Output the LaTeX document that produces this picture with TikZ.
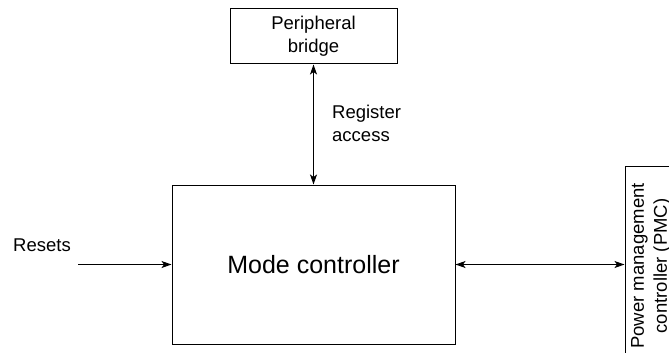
\documentclass[tikz,border=0pt]{standalone}
\usepackage{fontspec}
\setmainfont{Liberation Sans}
\usetikzlibrary{arrows.meta}
\begin{document}
\begin{tikzpicture}[x=1pt,y=-1pt,
  box/.style={draw,line width=1pt,inner sep=0pt,align=center},
  small/.style={font=\fontsize{18.5}{23}\selectfont},
  big/.style={font=\fontsize{25}{30}\selectfont},
  conn/.style={line width=1pt,-{Stealth[length=10pt,width=7pt,inset=2.5pt]}},
  bconn/.style={line width=1pt,{Stealth[length=10pt,width=7pt,inset=2.5pt]}-{Stealth[length=10pt,width=7pt,inset=2.5pt]}}]
\useasboundingbox (0,0) rectangle (669,353);
\node[box,small,minimum width=167pt,minimum height=55pt] (bridge) at (313.5,36.5) {Peripheral\\bridge};
\node[box,big,minimum width=283pt,minimum height=159pt] (mode) at (313.5,264.5) {Mode controller};
\node[box,small,rotate=90,minimum width=200pt,minimum height=52pt] (pmc) at (651,266) {Power management\\controller (PMC)};
\node[small,inner sep=0pt,align=left,anchor=west] (reg) at (332,123.4) {Register\\access};
\node[small,inner sep=0pt] (resets) at (42,245.5) {Resets};
\coordinate (rstart) at (78,264.5);
\draw[bconn] (bridge.south) -- (mode.north);
\draw[conn] (rstart) -- (mode.west);
\draw[bconn] (mode.east) -- (mode.east -| pmc.north);
\end{tikzpicture}
\end{document}
